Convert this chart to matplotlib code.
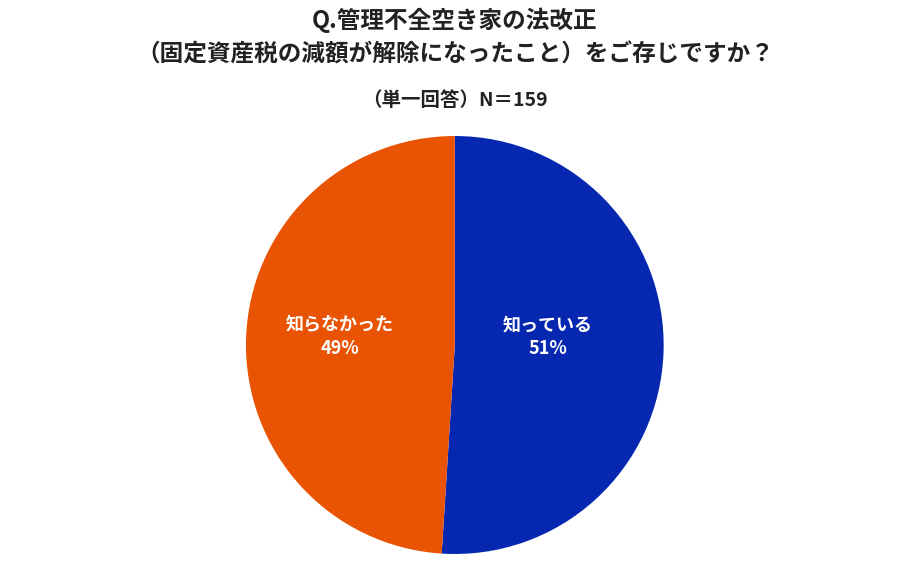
import matplotlib.pyplot as plt

plt.rcParams['font.family'] = ['Noto Sans CJK JP', 'DejaVu Sans']

labels = ['知っている', '知らなかった']
values = [51, 49]
colors = ['#0628B1', '#E85404']

fig = plt.figure(figsize=(9.10, 5.71), dpi=100)
ax = fig.add_axes([0.2703, 0.0298, 0.459, 0.732])
ax.pie(values, colors=colors, startangle=90, counterclock=False,
       wedgeprops={'linewidth': 0})
ax.set_xlim(-1, 1)
ax.set_ylim(-1, 1)
ax.set_aspect('auto')

label_pos = [(0.445, 0.04), (-0.55, 0.04)]
for lab, v, (x, y) in zip(labels, values, label_pos):
    ax.text(x, y, f'{lab}\n{v}%', color='white', fontsize=13, fontweight='bold',
            ha='center', va='center', linespacing=1.3)

fig.text(0.5, 1 - 20 / 571, 'Q.管理不全空き家の法改正', ha='center', va='center',
         fontsize=17, fontweight='bold', color='#222222')
fig.text(0.5, 1 - 55 / 571, '（固定資産税の減額が解除になったこと）をご存じですか？', ha='center',
         va='center', fontsize=17, fontweight='bold', color='#222222')
fig.text(0.5, 1 - 100 / 571, '（単一回答）N＝159', ha='center', va='center',
         fontsize=14, fontweight='bold', color='#222222')

fig.savefig('out.png', dpi=100)
